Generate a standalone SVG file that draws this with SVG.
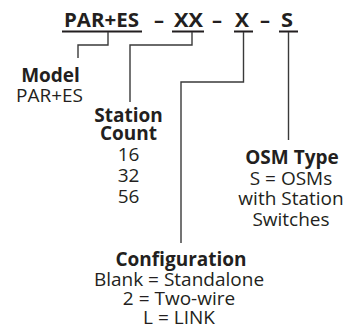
<svg xmlns="http://www.w3.org/2000/svg" width="359" height="330" viewBox="0 0 359 330">
<style>
text{font-family:"Open Sans","Noto Sans",sans-serif;fill:#231f20;}
.t{font-size:20px;font-weight:bold;}
.h{font-size:19px;font-weight:bold;text-anchor:middle;}
.r{font-size:19px;text-anchor:middle;}
.u{stroke:#231f20;stroke-width:2.2;fill:none;}
.c{stroke:#3a3a3a;stroke-width:1.4;fill:none;}
</style>
<rect width="359" height="330" fill="#fff"/>
<g id="title">
<text class="t" x="64" y="27" textLength="75" lengthAdjust="spacingAndGlyphs">PAR+ES</text>
<text class="t" x="154" y="27">–</text>
<text class="t" x="174" y="27" textLength="29" lengthAdjust="spacingAndGlyphs">XX</text>
<text class="t" x="212" y="27">–</text>
<text class="t" x="235" y="27" textLength="14" lengthAdjust="spacingAndGlyphs">X</text>
<text class="t" x="260" y="27">–</text>
<text class="t" x="281" y="27" textLength="12" lengthAdjust="spacingAndGlyphs">S</text>
<path class="u" d="M62 31.5H142M172 31.5H204M234 31.5H253M279 31.5H298"/>
</g>
<g id="connectors">
<path class="c" d="M108 32V45H78V58"/>
<path class="c" d="M192 32V45H130V102"/>
<path class="c" d="M243.5 32V82H181V243"/>
<path class="c" d="M288.5 32V140"/>
</g>
<g id="model">
<text class="h" x="50.5" y="82">Model</text>
<text class="r" x="49.5" y="102">PAR+ES</text>
</g>
<g id="station">
<text class="h" x="128.5" y="122">Station</text>
<text class="h" x="128.5" y="140">Count</text>
<text class="r" x="128.5" y="161">16</text>
<text class="r" x="128.5" y="182">32</text>
<text class="r" x="128.5" y="203">56</text>
</g>
<g id="osm">
<text class="h" x="292" y="164">OSM Type</text>
<text class="r" x="291" y="185">S = OSMs</text>
<text class="r" x="291" y="205">with Station</text>
<text class="r" x="291" y="226">Switches</text>
</g>
<g id="config">
<text class="h" x="181" y="266">Configuration</text>
<text class="r" x="179" y="286">Blank = Standalone</text>
<text class="r" x="179" y="305">2 = Two-wire</text>
<text class="r" x="179" y="324">L = LINK</text>
</g>
</svg>
